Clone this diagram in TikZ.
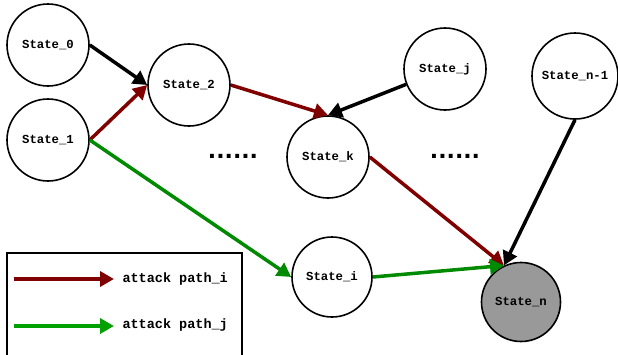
\documentclass[tikz,border=0pt]{standalone}
\usepackage{fontspec}
\usepackage{xcolor}
\usepackage{tikz}
\setmonofont{Liberation Mono}
\newfontfamily\dotfont{DejaVu Sans}
\usetikzlibrary{arrows.meta}

\definecolor{pathi}{HTML}{800000}
\definecolor{pathj}{HTML}{008A00}
\definecolor{goal}{HTML}{999999}

\begin{document}
\begin{tikzpicture}[x=1pt,y=-1pt]
            \tikzset{state/.style = {draw, circle, line width=1.6pt, minimum size=82pt, inner sep=0pt, font=\ttfamily\bfseries\fontsize{12.3}{13}\selectfont}}
            \tikzset{edge/.style = {line width=3.5pt, -{Triangle[length=14pt,width=15pt]}}}
            \tikzset{label/.style = {font=\ttfamily\bfseries\fontsize{13.5}{14}\selectfont}}
            \tikzset{dots/.style = {font=\dotfont\bfseries\fontsize{22}{22}\selectfont}}
            \useasboundingbox (0,0) rectangle (618,354);

            % vertices
            \node[state] (s0) at (48,45) {State\_0};
            \node[state] (s1) at (48,140) {State\_1};
            \node[state] (s2) at (189,85) {State\_2};
            \node[state] (sk) at (328,157) {State\_k};
            \node[state] (sj) at (445,69) {State\_j};
            \node[state, minimum size=86pt] (sm) at (575,76) {State\_n-1};
            \node[state, minimum size=80pt] (si) at (332,277) {State\_i};
            \node[state, minimum size=79pt, fill=goal] (sn) at (521,302) {State\_n};
            \node[dots] (dots1) at (233,156) {......};
            \node[dots] (dots2) at (455,156) {......};

            % edges
            \draw[edge] (s0.east) -- (s2.west);
            \draw[edge] (sj) -- (sk.north);
            \draw[edge] (sm.south) -- (sn.115);
            \foreach \a/\b in {s1.east/s2.west, s2.east/sk.north, sk.east/sn.115} {\draw[edge, pathi] (\a) -- (\b);}
            \foreach \a/\b in {s1.east/si.west, si.east/sn.115} {\draw[edge, pathj] (\a) -- (\b);}

            % legend
            \draw[line width=1.2pt] (7,253) rectangle (242,362);
            \coordinate (li0) at (14,279);
            \coordinate (li1) at (114,279);
            \coordinate (lj0) at (14,326);
            \coordinate (lj1) at (114,326);
            \draw[edge, pathi] (li0) -- (li1);
            \draw[edge, pathj!80!green] (lj0) -- (lj1);
            \node[label, anchor=west] (legi) at (119,279) {attack path\_i};
            \node[label, anchor=west] (legj) at (119,325) {attack path\_j};

          \end{tikzpicture}
\end{document}
